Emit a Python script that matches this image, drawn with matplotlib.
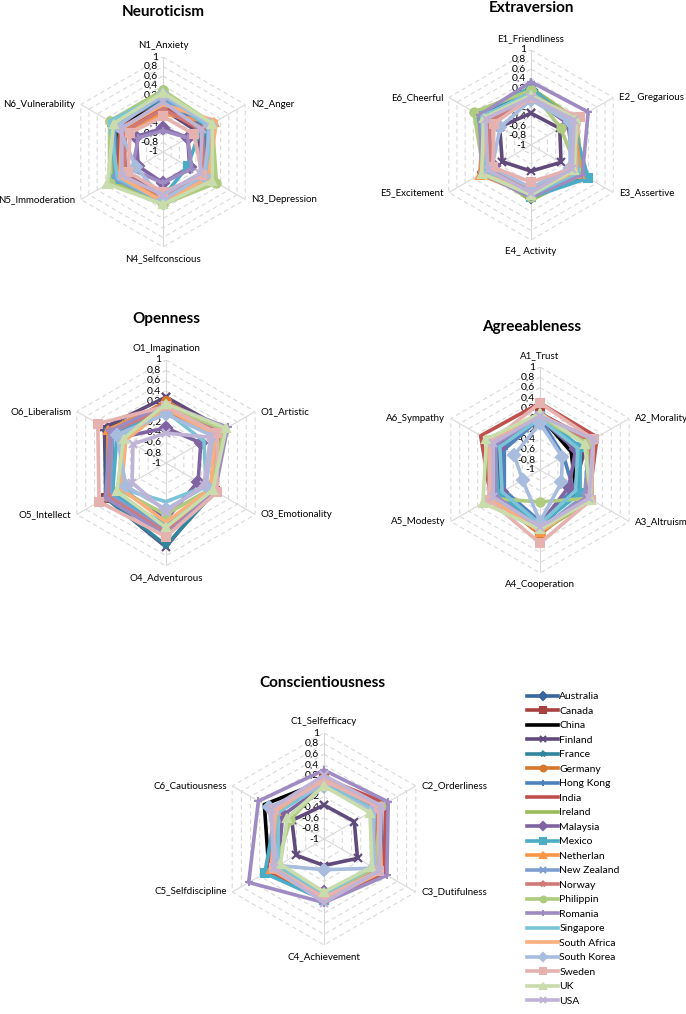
import matplotlib.pyplot as plt
import numpy as np

plt.rcParams['font.family'] = ['Lato', 'DejaVu Sans']

countries = ['Australia', 'Canada', 'China', 'Finland', 'France', 'Germany', 'Hong Kong',
             'India', 'Ireland', 'Malaysia', 'Mexico', 'Netherlan', 'New Zealand', 'Norway',
             'Philippin', 'Romania', 'Singapore', 'South Africa', 'South Korea', 'Sweden',
             'UK', 'USA']
colors = ['#3A66A0', '#A8423F', '#000000', '#604A7B', '#31859C', '#D7772B', '#4F81BD',
          '#C0504D', '#9BBB59', '#8064A2', '#4BACC6', '#F79646', '#7E9ED3', '#D07A78',
          '#AFCB80', '#9E8BC2', '#7BC4D8', '#F9AE7B', '#A8BCDD', '#E5B2B0', '#C9DCAC',
          '#C0B4D6']
markers = ['D', 's', '', 'x', '*', 'o', '+', '', '', 'D', 's', '^', 'x', '*', 'o', '+',
           '', '', 'D', 's', '^', 'x']

neuro_labels = ['N1_Anxiety', 'N2_Anger', 'N3_Depression', 'N4_Selfconscious',
                'N5_Immoderation', 'N6_Vulnerability']
neuro = [
    [0.10, 0.05, 0.10, 0.05, 0.15, 0.15],
    [0.05, 0.00, 0.05, 0.00, 0.05, 0.10],
    [0.00, -0.05, 0.10, 0.00, 0.05, 0.10],
    [-0.10, -0.15, 0.00, -0.05, -0.10, 0.00],
    [0.10, 0.10, 0.10, 0.05, 0.00, 0.20],
    [-0.15, 0.05, 0.00, 0.00, -0.05, -0.05],
    [0.15, 0.05, 0.05, 0.05, 0.20, 0.20],
    [-0.05, -0.10, 0.05, 0.00, 0.10, 0.05],
    [0.20, 0.15, 0.25, 0.10, 0.20, 0.25],
    [-0.50, -0.40, -0.35, -0.35, -0.40, -0.35],
    [0.15, -0.10, -0.40, -0.05, 0.15, 0.25],
    [-0.20, 0.25, 0.05, 0.00, 0.00, -0.10],
    [0.15, 0.10, 0.10, 0.05, 0.15, 0.20],
    [-0.10, -0.05, 0.00, -0.05, -0.05, -0.10],
    [0.30, 0.20, 0.30, 0.10, 0.30, 0.30],
    [-0.55, -0.40, -0.30, -0.35, -0.25, -0.40],
    [0.20, 0.10, 0.10, 0.05, 0.10, 0.30],
    [0.00, 0.30, 0.10, 0.05, 0.05, 0.00],
    [0.20, 0.15, 0.00, 0.00, -0.35, 0.10],
    [-0.25, -0.25, -0.05, -0.15, -0.15, -0.20],
    [0.25, 0.20, 0.20, 0.10, 0.35, 0.20],
    [0.05, -0.05, -0.10, -0.10, 0.00, 0.00],
]

extra_labels = ['E1_Friendliness', 'E2_ Gregarious', 'E3_Assertive', 'E4_ Activity',
                'E5_Excitement', 'E6_Cheerful']
extra = [
    [0.15, 0.05, 0.20, 0.10, 0.15, 0.20],
    [0.10, 0.00, 0.15, 0.05, 0.10, 0.15],
    [0.05, -0.05, 0.25, 0.05, 0.10, 0.25],
    [-0.33, -0.30, -0.27, -0.45, -0.30, -0.24],
    [0.20, 0.05, 0.30, 0.10, 0.15, 0.30],
    [0.10, 0.00, 0.20, 0.05, 0.20, 0.15],
    [0.10, -0.05, 0.20, 0.00, 0.10, 0.20],
    [0.05, -0.10, 0.10, 0.05, 0.00, 0.05],
    [0.20, 0.10, 0.25, 0.16, 0.10, 0.35],
    [0.00, -0.10, 0.05, 0.00, -0.10, 0.10],
    [0.20, 0.00, 0.39, 0.10, 0.15, 0.30],
    [0.10, 0.05, 0.20, 0.05, 0.25, 0.15],
    [0.05, 0.00, 0.10, 0.05, 0.15, 0.10],
    [0.00, -0.05, 0.05, -0.05, 0.00, 0.00],
    [0.15, -0.28, 0.15, 0.10, 0.15, 0.39],
    [0.33, 0.39, 0.25, 0.10, 0.20, 0.25],
    [0.10, 0.00, 0.15, 0.05, 0.10, 0.20],
    [0.05, 0.05, 0.10, 0.00, 0.20, 0.10],
    [-0.05, -0.05, -0.05, -0.10, -0.05, -0.25],
    [0.00, 0.18, 0.00, -0.22, -0.07, -0.10],
    [0.05, 0.10, 0.05, 0.05, 0.20, 0.15],
    [0.00, 0.05, 0.00, 0.00, 0.05, 0.10],
]

open_labels = ['O1_Imagination', 'O1_Artistic', 'O3_Emotionality', 'O4_Adventurous',
               'O5_Intellect', 'O6_Liberalism']
openness = [
    [0.10, 0.25, 0.05, 0.30, 0.30, 0.30],
    [0.15, 0.20, 0.10, 0.30, 0.35, 0.30],
    [0.05, 0.15, 0.00, 0.20, 0.30, 0.35],
    [0.28, 0.30, 0.05, 0.63, 0.35, 0.38],
    [0.15, 0.30, 0.10, 0.60, 0.35, 0.30],
    [0.20, 0.25, 0.10, 0.35, 0.30, 0.20],
    [0.10, 0.20, 0.05, 0.30, 0.25, 0.20],
    [0.00, 0.15, 0.00, 0.25, 0.20, 0.20],
    [0.10, 0.30, 0.05, 0.30, 0.30, 0.25],
    [-0.32, -0.22, -0.28, 0.10, 0.00, 0.00],
    [0.05, 0.20, 0.00, 0.20, 0.20, 0.10],
    [0.15, 0.25, 0.05, 0.35, 0.30, 0.30],
    [0.10, 0.20, 0.05, 0.30, 0.25, 0.20],
    [0.05, 0.20, 0.05, 0.35, 0.30, 0.25],
    [0.10, 0.30, 0.00, 0.00, 0.05, 0.00],
    [0.15, 0.38, 0.10, 0.40, 0.35, 0.25],
    [0.00, -0.15, -0.10, -0.25, 0.00, 0.00],
    [0.05, 0.10, 0.00, 0.15, 0.00, -0.10],
    [-0.05, 0.05, -0.10, -0.10, -0.10, 0.10],
    [0.10, 0.15, 0.14, 0.43, 0.50, 0.53],
    [0.15, 0.35, 0.05, 0.25, 0.10, -0.05],
    [-0.42, 0.00, -0.15, -0.05, -0.24, -0.26],
]

agree_labels = ['A1_Trust', 'A2_Morality', 'A3_Altruism', 'A4_Cooperation',
                'A5_Modesty', 'A6_Sympathy']
agree = [
    [0.05, 0.10, 0.10, 0.15, 0.00, 0.05],
    [0.10, 0.15, 0.05, 0.20, 0.05, 0.10],
    [0.05, -0.30, -0.20, 0.10, -0.10, -0.10],
    [0.00, 0.05, -0.25, 0.10, -0.05, -0.05],
    [0.00, -0.20, -0.15, 0.10, -0.10, -0.15],
    [0.05, 0.10, 0.05, 0.25, 0.05, 0.05],
    [0.00, -0.47, -0.25, 0.00, -0.20, -0.20],
    [0.30, 0.28, 0.10, 0.20, 0.10, 0.33],
    [0.05, 0.15, 0.17, 0.20, 0.10, 0.20],
    [0.00, -0.20, -0.35, 0.05, -0.15, -0.10],
    [0.05, -0.10, -0.10, 0.05, -0.05, 0.00],
    [0.05, 0.15, 0.05, 0.20, 0.05, 0.10],
    [0.05, 0.10, 0.00, 0.15, 0.00, 0.05],
    [0.10, 0.10, 0.05, 0.15, 0.05, 0.10],
    [0.00, 0.05, 0.10, -0.38, 0.10, 0.15],
    [0.05, 0.20, 0.05, 0.15, 0.00, 0.00],
    [0.00, -0.15, -0.20, 0.05, -0.15, -0.10],
    [0.05, 0.20, 0.10, 0.20, 0.10, 0.15],
    [-0.09, -0.50, -0.52, 0.00, -0.61, -0.42],
    [0.30, 0.20, 0.15, 0.42, 0.15, 0.10],
    [0.10, 0.00, 0.15, 0.15, 0.28, 0.20],
    [0.05, 0.20, 0.10, 0.10, 0.05, 0.05],
]

consc_labels = ['C1_Selfefficacy', 'C2_Orderliness', 'C3_Dutifulness', 'C4_Achievement',
                'C5_Selfdiscipline', 'C6_Cautiousness']
consc = [
    [0.10, 0.20, 0.20, 0.10, 0.15, 0.05],
    [0.15, 0.25, 0.25, 0.15, 0.15, 0.10],
    [0.10, 0.20, 0.20, 0.05, 0.20, 0.30],
    [-0.36, -0.34, -0.27, -0.50, -0.39, -0.30],
    [0.10, 0.15, 0.20, 0.10, 0.10, 0.00],
    [0.15, 0.20, 0.20, 0.15, 0.10, 0.00],
    [0.10, 0.25, 0.25, 0.15, 0.15, 0.10],
    [0.15, 0.35, 0.30, 0.15, 0.20, 0.10],
    [0.10, 0.20, 0.20, 0.10, 0.10, 0.05],
    [0.00, 0.10, 0.10, 0.00, 0.00, -0.10],
    [0.10, 0.20, 0.20, 0.15, 0.29, 0.05],
    [0.15, 0.15, 0.20, 0.10, 0.15, 0.05],
    [0.10, 0.20, 0.20, 0.10, 0.10, 0.10],
    [0.05, 0.15, 0.15, 0.10, 0.10, 0.05],
    [0.05, 0.25, 0.10, 0.05, 0.05, -0.27],
    [0.30, 0.40, 0.37, 0.20, 0.64, 0.43],
    [0.05, 0.10, 0.05, 0.05, 0.00, 0.00],
    [0.15, 0.20, 0.25, 0.15, 0.15, 0.05],
    [0.00, 0.05, 0.10, -0.42, 0.00, 0.20],
    [0.10, 0.20, 0.20, 0.10, 0.10, 0.10],
    [0.00, 0.00, 0.05, 0.00, -0.05, -0.20],
    [0.20, 0.25, 0.20, 0.20, 0.10, 0.15],
]

r_ticks = [-1, -0.8, -0.6, -0.4, -0.2, 0, 0.2, 0.4, 0.6, 0.8, 1]
r_tick_labels = ['-1', '-0,8', '-0,6', '-0,4', '-0,2', '0', '0,2', '0,4', '0,6', '0,8', '1']

W, H = 686, 1014
fig = plt.figure(figsize=(W / 100, H / 100), dpi=100)
grey = '#D9D9D9'


def radar(cx, cy, R, title, tx, ty, labels, values):
    ax = fig.add_axes([(cx - R) / W, (H - cy - R) / H, 2 * R / W, 2 * R / H],
                      projection='polar')
    ax.set_theta_zero_location('N')
    ax.set_theta_direction(-1)
    ax.set_ylim(-1, 1)
    ax.grid(False)
    ax.spines['polar'].set_visible(False)
    ax.set_xticks([])
    ax.set_yticks([])
    ax.patch.set_alpha(0)

    th = np.linspace(0, 2 * np.pi, 7)
    for r in r_ticks[1:]:
        ax.plot(th, [r] * 7, color=grey, lw=0.8, ls=(0, (4, 3)), zorder=1)
    for t in th[:-1]:
        ax.plot([t, t], [-1, 1], color=grey, lw=0.8, zorder=1)

    for v, s in zip(r_ticks, r_tick_labels):
        ax.annotate(s, (0, v), xytext=(-3.5, 0), textcoords='offset points',
                    ha='right', va='center', fontsize=7.5, zorder=2,
                    annotation_clip=False)

    offs = [((0, 5), 'center', 'bottom'), ((4, 0), 'left', 'center'),
            ((4, 0), 'left', 'center'), ((0, -5), 'center', 'top'),
            ((-4, 0), 'right', 'center'), ((-4, 0), 'right', 'center')]
    for k, lab in enumerate(labels):
        off, ha, va = offs[k]
        ax.annotate(lab, (th[k], 1), xytext=off, textcoords='offset points',
                    ha=ha, va=va, fontsize=7, annotation_clip=False)

    handles = []
    for i, name in enumerate(countries):
        vals = list(values[i]) + [values[i][0]]
        m = markers[i]
        ln, = ax.plot(th, vals, color=colors[i], lw=2.6, marker=m if m else None,
                      ms=6, mew=1.5, mec=colors[i], mfc=colors[i], zorder=3 + i,
                      clip_on=False)
        handles.append(ln)

    fig.text(tx / W, 1 - ty / H, title, ha='center', va='center', fontsize=11,
             fontweight='bold')
    return handles


radar(163, 152, 95, 'Neuroticism', 163, 12, neuro_labels, neuro)
radar(531, 145, 95, 'Extraversion', 531, 8, extra_labels, extra)
radar(166, 463, 103, 'Openness', 166, 319, open_labels, openness)
radar(540, 470, 103, 'Agreeableness', 532, 327, agree_labels, agree)
handles = radar(324, 839, 106, 'Conscientiousness', 322, 683, consc_labels, consc)

fig.legend(handles, countries, loc='upper left', bbox_to_anchor=(527 / W, 1 - 692 / H),
           frameon=False, fontsize=7.5, handlelength=3.0, handletextpad=0.1,
           labelspacing=0.5, borderpad=0, borderaxespad=0, markerscale=0.7)

fig.savefig('out.png', dpi=100)
